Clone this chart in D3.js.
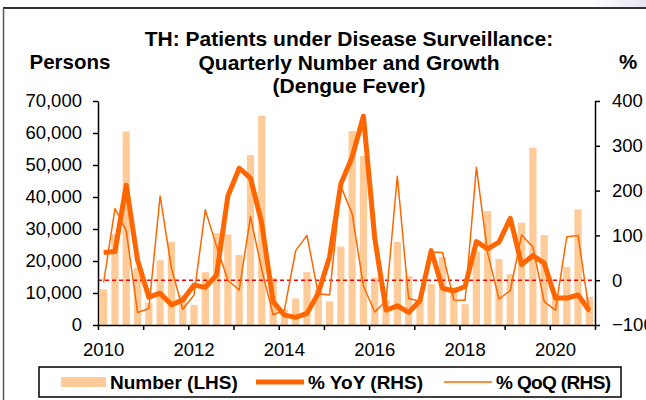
<!DOCTYPE html>
<html>
<head>
<meta charset="utf-8">
<script src="https://cdn.jsdelivr.net/npm/d3@7"></script>
<style>
  html, body { margin: 0; padding: 0; background: #fff; }
  svg { display: block; font-family: "Liberation Sans", Arial, sans-serif; }
</style>
</head>
<body>
<svg id="chart" width="646" height="400"></svg>
<script>
// ── Data ──────────────────────────────────────────────────────────────────────

const years = d3.range(2010, 2021);
const quarters = years.flatMap(y => [1, 2, 3, 4].map(q => `${y}Q${q}`));

// Number of patients (LHS, persons)
const patients = [
  11150, 28500, 60500, 17900,
  7000, 20200, 26000, 9300,
  6250, 16500, 28700, 28300,
  21900, 53100, 65400, 14800,
  4900, 8300, 16500, 11200,
  7400, 24500, 60600, 52800,
  14800, 7800, 26000, 15300,
  7800, 12800, 21300, 11800,
  6500, 23000, 35600, 20600,
  15900, 32000, 55400, 28100,
  9300, 18100, 36100, 8800
];

// % YoY (RHS)
const yoy = [
  62, 64, 212, 45,
  -38, -29, -55, -44,
  -11, -16, 12, 188,
  250, 228, 127, -48,
  -78, -83, -74, -29,
  52, 215, 275, 366,
  94, -67, -57, -72,
  -46, 66, -18, -24,
  -14, 86, 70, 85,
  138, 35, 55, 38,
  -40, -40, -33, -68
];

// % QoQ (RHS)
const qoq = [
  -5, 160, 110, -72,
  -63, 188, 27, -65,
  -33, 157, 75, 0,
  -22, 142, 23, -77,
  -67, 66, 100, -30,
  -33, 210, 148, -13,
  -71, -46, 232, -41,
  -47, 63, 62, -44,
  -45, 252, 60, -42,
  -23, 101, 74, -48,
  -67, 97, 100, -72
];

const leftTicks = d3.range(0, 70001, 10000);
const rightTicks = d3.range(-100, 401, 100);
const yearLabels = [2010, 2012, 2014, 2016, 2018, 2020];

const titleLines = [
  'TH: Patients under Disease Surveillance:',
  'Quarterly Number and Growth',
  '(Dengue Fever)'
];

const legendItems = [
  { label: 'Number (LHS)', kind: 'bar', x: 61 },
  { label: '% YoY (RHS)', kind: 'thick', x: 256 },
  { label: '% QoQ (RHS)', kind: 'thin', x: 444 }
];

// ── Layout ────────────────────────────────────────────────────────────────────

const plot = { left: 98, right: 595, top: 101, bottom: 325 };
const BAR = '#FFCC99';
const LINE = '#FF6600';

const svg = d3.select('#chart');

const x = d3.scaleBand()
  .domain(quarters)
  .range([plot.left, plot.right])
  .paddingInner(0.36)
  .paddingOuter(0.18);

const xYear = d3.scaleLinear()
  .domain([2010, 2021])
  .range([plot.left, plot.right]);

const yL = d3.scaleLinear().domain([0, 70000]).range([plot.bottom, plot.top]);
const yR = d3.scaleLinear().domain([-100, 400]).range([plot.bottom, plot.top]);

const cx = i => x(quarters[i]) + x.bandwidth() / 2;

// ── Frame ─────────────────────────────────────────────────────────────────────

const grad = svg.append('defs').append('linearGradient')
  .attr('id', 'corner').attr('x1', 0).attr('x2', 1);
grad.append('stop').attr('offset', 0).attr('stop-color', '#fff');
grad.append('stop').attr('offset', 1).attr('stop-color', '#e6e6f2');
svg.append('rect')
  .attr('x', 585).attr('y', 0).attr('width', 61).attr('height', 8)
  .attr('fill', 'url(#corner)');

svg.append('line')
  .attr('x1', 3).attr('x2', 646).attr('y1', 8).attr('y2', 8)
  .attr('stroke', '#333').attr('stroke-width', 2);
svg.append('line')
  .attr('x1', 3.5).attr('x2', 3.5).attr('y1', 8).attr('y2', 400)
  .attr('stroke', '#555').attr('stroke-width', 1.5);

// ── Titles ────────────────────────────────────────────────────────────────────

svg.append('g').selectAll('text').data(titleLines).join('text')
  .attr('x', 349)
  .attr('y', (d, i) => 46 + i * 23.5)
  .attr('text-anchor', 'middle')
  .attr('font-size', 21).attr('font-weight', 'bold')
  .text(d => d);

svg.append('text')
  .attr('x', 70).attr('y', 69)
  .attr('text-anchor', 'middle')
  .attr('font-size', 20.5).attr('font-weight', 'bold')
  .text('Persons');

svg.append('text')
  .attr('x', 628).attr('y', 69)
  .attr('text-anchor', 'middle')
  .attr('font-size', 20.5).attr('font-weight', 'bold')
  .text('%');

// ── Bars ──────────────────────────────────────────────────────────────────────

svg.append('g').selectAll('rect').data(patients).join('rect')
  .attr('x', (d, i) => x(quarters[i]))
  .attr('width', x.bandwidth())
  .attr('y', d => yL(d))
  .attr('height', d => yL(0) - yL(d))
  .attr('fill', BAR);

// zero line for the % axis
svg.append('line')
  .attr('x1', plot.left).attr('x2', plot.right)
  .attr('y1', yR(0)).attr('y2', yR(0))
  .attr('stroke', '#FF0000').attr('stroke-width', 1.5)
  .attr('stroke-dasharray', '4,3');

// ── Lines ─────────────────────────────────────────────────────────────────────

const line = d3.line().x((d, i) => cx(i)).y(d => yR(d));

svg.append('path').datum(yoy)
  .attr('d', line)
  .attr('fill', 'none')
  .attr('stroke', LINE).attr('stroke-width', 5)
  .attr('stroke-linejoin', 'round');

svg.append('path').datum(qoq)
  .attr('d', line)
  .attr('fill', 'none')
  .attr('stroke', LINE).attr('stroke-width', 1.5)
  .attr('stroke-linejoin', 'round');

// ── Axes ──────────────────────────────────────────────────────────────────────

function styleAxis(g) {
  g.select('.domain').attr('stroke', '#000').attr('stroke-width', 1.5);
  g.selectAll('.tick line').attr('stroke', '#000').attr('stroke-width', 1.5);
  g.selectAll('.tick text')
    .attr('font-size', 18.5).attr('fill', '#000')
    .attr('font-family', '"Liberation Sans", Arial, sans-serif');
}

svg.append('g')
  .attr('transform', `translate(${plot.left},0)`)
  .call(d3.axisLeft(yL).tickValues(leftTicks).tickSize(5).tickPadding(11)
    .tickSizeOuter(0).tickFormat(d3.format(',')))
  .call(styleAxis);

svg.append('g')
  .attr('transform', `translate(${plot.right},0)`)
  .call(d3.axisRight(yR).tickValues(rightTicks).tickSize(5).tickPadding(12)
    .tickSizeOuter(0))
  .call(styleAxis);

svg.append('g')
  .attr('transform', `translate(0,${plot.bottom})`)
  .call(d3.axisBottom(xYear).tickValues(d3.range(2010, 2022)).tickSize(5)
    .tickSizeOuter(0).tickFormat(''))
  .call(styleAxis);

svg.append('g').selectAll('text').data(yearLabels).join('text')
  .attr('x', d => cx(quarters.indexOf(`${d}Q1`)))
  .attr('y', 356)
  .attr('text-anchor', 'middle')
  .attr('font-size', 18.5)
  .text(d => d);

// ── Legend ────────────────────────────────────────────────────────────────────

svg.append('rect')
  .attr('x', 39).attr('y', 367).attr('width', 582).attr('height', 30)
  .attr('fill', '#fff').attr('stroke', '#000').attr('stroke-width', 1.5);

const leg = svg.append('g').selectAll('g').data(legendItems).join('g')
  .attr('transform', d => `translate(${d.x},382)`);

leg.filter(d => d.kind === 'bar').append('rect')
  .attr('x', 0).attr('y', -5).attr('width', 45).attr('height', 10)
  .attr('fill', BAR);

leg.filter(d => d.kind !== 'bar').append('line')
  .attr('x1', 0).attr('x2', 48).attr('y1', 0).attr('y2', 0)
  .attr('stroke', LINE)
  .attr('stroke-width', d => d.kind === 'thick' ? 5 : 1.5);

leg.append('text')
  .attr('x', d => d.kind === 'bar' ? 49 : 52)
  .attr('y', 7)
  .attr('font-size', 19).attr('font-weight', 'bold')
  .attr('textLength', d => d.kind === 'thin' ? 115 : null)
  .text(d => d.label);
</script>
</body>
</html>
